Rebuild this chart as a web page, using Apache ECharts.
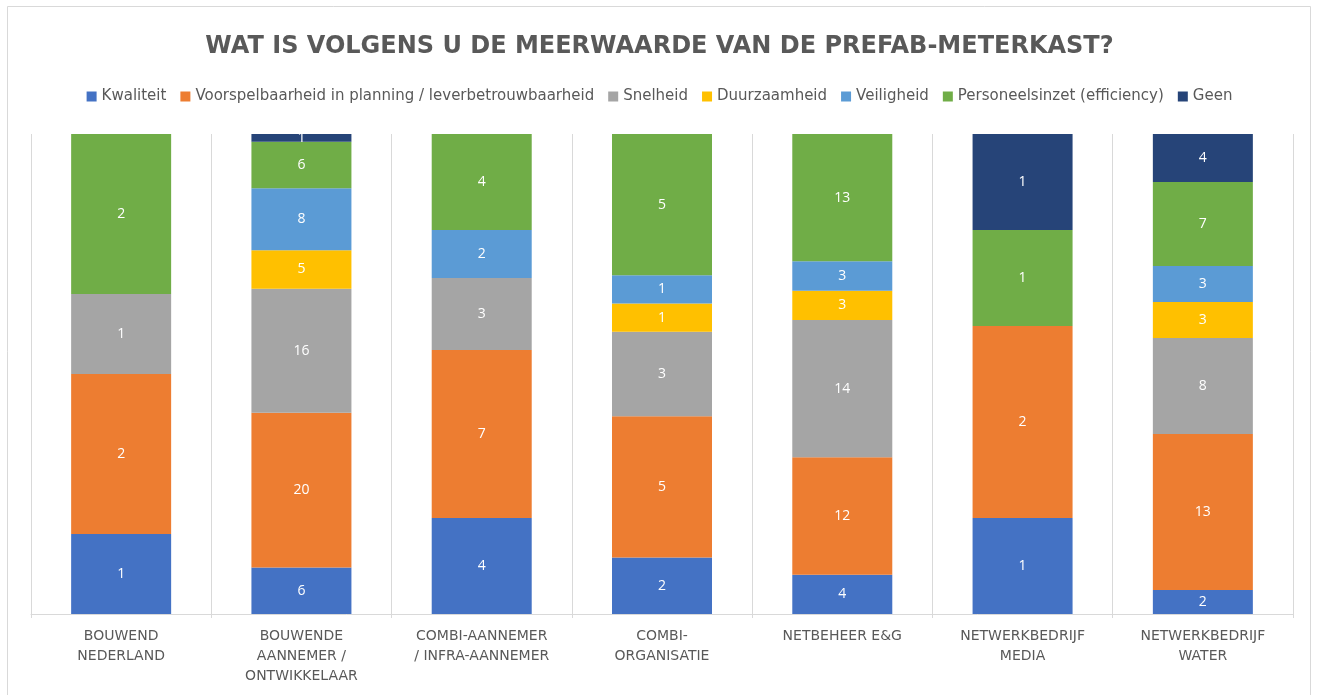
<!DOCTYPE html>
<html>
<head>
<meta charset="utf-8">
<script src="https://cdn.jsdelivr.net/npm/echarts@6/dist/echarts.min.js"></script>
<style>
  html, body { margin: 0; padding: 0; background: #fff; }
  #main { width: 1319px; height: 695px; }
</style>
</head>
<body>
<div id="main"></div>
<script>
// categorieen (x-as)
var categories = [
  'BOUWEND\nNEDERLAND',
  'BOUWENDE\nAANNEMER /\nONTWIKKELAAR',
  'COMBI-AANNEMER\n/ INFRA-AANNEMER',
  'COMBI-\nORGANISATIE',
  'NETBEHEER E&G',
  'NETWERKBEDRIJF\nMEDIA',
  'NETWERKBEDRIJF\nWATER'
];

// aantallen per antwoord
var kwaliteit        = [1, 6, 4, 2, 4, 1, 2];
var voorspelbaarheid = [2, 20, 7, 5, 12, 2, 13];
var snelheid         = [1, 16, 3, 3, 14, 0, 8];
var duurzaamheid     = [0, 5, 0, 1, 3, 0, 3];
var veiligheid       = [0, 8, 2, 1, 3, 0, 3];
var personeelsinzet  = [2, 6, 4, 5, 13, 1, 7];
var geen             = [0, 1, 0, 0, 0, 1, 4];

var seriesDefs = [
  { name: 'Kwaliteit', values: kwaliteit, color: '#4472C4' },
  { name: 'Voorspelbaarheid in planning / leverbetrouwbaarheid', values: voorspelbaarheid, color: '#ED7D31' },
  { name: 'Snelheid', values: snelheid, color: '#A5A5A5' },
  { name: 'Duurzaamheid', values: duurzaamheid, color: '#FFC000' },
  { name: 'Veiligheid', values: veiligheid, color: '#5B9BD5' },
  { name: 'Personeelsinzet (efficiency)', values: personeelsinzet, color: '#70AD47' },
  { name: 'Geen', values: geen, color: '#264478' }
];

// totaal per categorie (100% gestapeld)
var totals = categories.map(function (c, i) {
  var t = 0;
  seriesDefs.forEach(function (s) { t += s.values[i]; });
  return t;
});

var chart = echarts.init(document.getElementById('main'));

var series = seriesDefs.map(function (s) {
  return {
    name: s.name,
    type: 'bar',
    stack: 'totaal',
    barWidth: 100,
    itemStyle: { color: s.color },
    label: {
      show: true,
      position: 'inside',
      color: '#fff',
      fontSize: 14,
      fontFamily: 'Open Sans',
      formatter: function (p) { return s.values[p.dataIndex]; }
    },
    data: s.values.map(function (v, i) {
      return {
        value: v / totals[i] * 100,
        label: { show: v > 0 }
      };
    })
  };
});

var option = {
  backgroundColor: '#fff',
  animation: false,
  title: {
    text: 'WAT IS VOLGENS U DE MEERWAARDE VAN DE PREFAB-METERKAST?',
    left: 'center',
    top: 30,
    textStyle: {
      color: '#595959',
      fontSize: 24,
      fontWeight: 'bold',
      fontFamily: 'DejaVu Sans'
    }
  },
  legend: {
    top: 84,
    left: 'center',
    itemWidth: 10,
    itemHeight: 10,
    itemGap: 14,
    icon: 'rect',
    textStyle: { color: '#595959', fontSize: 15, fontFamily: 'DejaVu Sans' },
    data: seriesDefs.map(function (s) { return s.name; })
  },
  graphic: [{
    type: 'rect',
    shape: { x: 7.5, y: 6.5, width: 1303, height: 700 },
    style: { fill: 'none', stroke: '#d9d9d9', lineWidth: 1 },
    silent: true
  }],
  grid: { left: 31, right: 26, top: 134, bottom: 81 },
  xAxis: {
    type: 'category',
    data: categories,
    boundaryGap: true,
    axisLine: { lineStyle: { color: '#d9d9d9' } },
    axisTick: { show: true, length: 4, lineStyle: { color: '#d9d9d9' } },
    splitLine: { show: true, lineStyle: { color: '#d9d9d9' } },
    axisLabel: {
      color: '#595959',
      fontSize: 14,
      fontFamily: 'DejaVu Sans',
      lineHeight: 20,
      margin: 12,
      interval: 0
    }
  },
  yAxis: {
    type: 'value',
    min: 0,
    max: 100,
    show: false,
    splitLine: { show: false }
  },
  series: series
};

chart.setOption(option);
</script>
</body>
</html>
